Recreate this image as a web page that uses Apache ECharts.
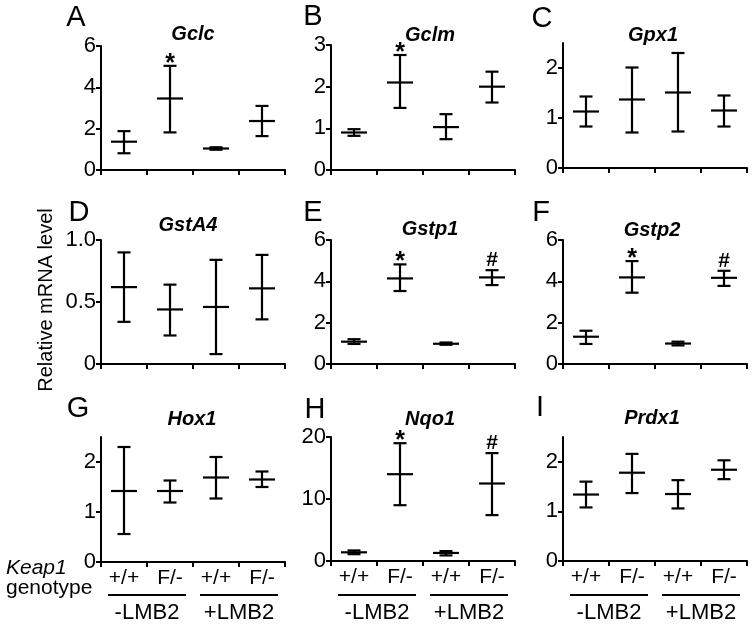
<!DOCTYPE html>
<html><head><meta charset="utf-8">
<script src="https://cdn.jsdelivr.net/npm/echarts@6/dist/echarts.min.js"></script>
<style>html,body{margin:0;padding:0;background:#fff}#c{width:752px;height:625px}</style>
</head><body><div id="c"></div>
<script>
// ---------------- data ----------------
const genotypes = ['+/+', 'F/-', '+/+', 'F/-'];
const treatments = ['-LMB2', '+LMB2'];
const genes = ['Gclc', 'Gclm', 'Gpx1', 'GstA4', 'Gstp1', 'Gstp2', 'Hox1', 'Nqo1', 'Prdx1'];
const panelLetters = ['A', 'B', 'C', 'D', 'E', 'F', 'G', 'H', 'I'];

const gclcMean = [1.37, 3.46, 1.04, 2.37];
const gclcLow  = [0.81, 1.82, 0.98, 1.64];
const gclcHigh = [1.88, 5.04, 1.10, 3.10];

const gclmMean = [0.90, 2.10, 1.03, 2.00];
const gclmLow  = [0.82, 1.49, 0.74, 1.62];
const gclmHigh = [0.98, 2.76, 1.34, 2.36];

const gpx1Mean = [1.13, 1.37, 1.51, 1.15];
const gpx1Low  = [0.83, 0.71, 0.73, 0.83];
const gpx1High = [1.43, 2.01, 2.30, 1.45];

const gsta4Mean = [0.62, 0.44, 0.46, 0.61];
const gsta4Low  = [0.34, 0.23, 0.08, 0.36];
const gsta4High = [0.90, 0.64, 0.84, 0.88];

const gstp1Mean = [1.08, 4.14, 0.98, 4.19];
const gstp1Low  = [0.97, 3.53, 0.93, 3.82];
const gstp1High = [1.20, 4.82, 1.04, 4.54];

const gstp2Mean = [1.32, 4.19, 0.99, 4.17];
const gstp2Low  = [0.97, 3.45, 0.90, 3.78];
const gstp2High = [1.61, 4.98, 1.08, 4.51];

const hox1Mean = [1.42, 1.42, 1.69, 1.65];
const hox1Low  = [0.56, 1.19, 1.27, 1.50];
const hox1High = [2.30, 1.63, 2.10, 1.81];

const nqo1Mean = [1.4, 14.0, 1.3, 12.5];
const nqo1Low  = [1.1, 9.0, 0.9, 7.4];
const nqo1High = [1.7, 19.0, 1.6, 17.4];

const prdx1Mean = [1.34, 1.78, 1.35, 1.84];
const prdx1Low  = [1.08, 1.37, 1.06, 1.65];
const prdx1High = [1.60, 2.16, 1.63, 2.03];

const yMaxes = [6, 3, 2.5, 1.0, 6, 6, 2.5, 20, 2.5];
const yTickValues = [[0, 2, 4, 6], [0, 1, 2, 3], [0, 1, 2], [0, 0.5, 1.0], [0, 2, 4, 6], [0, 2, 4, 6], [0, 1, 2], [0, 10, 20], [0, 1, 2]];
const sigMarks = [
  ['', '*', '', ''], ['', '*', '', ''], ['', '', '', ''],
  ['', '', '', ''], ['', '*', '', '#'], ['', '*', '', '#'],
  ['', '', '', ''], ['', '*', '', '#'], ['', '', '', '']
];
const yAxisTitle = 'Relative mRNA level';
const keapLabel = 'Keap1';
const genotypeLabel = 'genotype';

const means = [gclcMean, gclmMean, gpx1Mean, gsta4Mean, gstp1Mean, gstp2Mean, hox1Mean, nqo1Mean, prdx1Mean];
const lows  = [gclcLow, gclmLow, gpx1Low, gsta4Low, gstp1Low, gstp2Low, hox1Low, nqo1Low, prdx1Low];
const highs = [gclcHigh, gclmHigh, gpx1High, gsta4High, gstp1High, gstp2High, hox1High, nqo1High, prdx1High];

// ---------------- layout ----------------
const colLeft = [101, 331, 563];
const gridW = 184;
const gridTop = [46, 45, 43, 240, 240, 240, 437, 437, 437];
const gridH   = [124, 125, 125, 124, 124, 124, 125, 124, 124];
const titlePos = [[193, 34], [430, 35], [653, 35], [188, 225], [430, 229], [652, 230], [192, 419], [430, 419], [652, 418]];
const letterPos = [[76, 18], [313, 17], [542, 19], [79, 213], [313, 213], [541, 213], [78, 409], [315, 410], [540, 408]];

const FONT = 'Liberation Sans, Arial, sans-serif';
const chart = echarts.init(document.getElementById('c'), null, {renderer: 'canvas'});

const grids = [], xAxes = [], yAxes = [], series = [];
for (let i = 0; i < 9; i++) {
  const col = i % 3, row = Math.floor(i / 3);
  grids.push({left: colLeft[col], top: gridTop[i], width: gridW, height: gridH[i], outerBoundsMode: 'none', containLabel: false});
  xAxes.push({
    type: 'category', gridIndex: i, data: genotypes, boundaryGap: true,
    axisLine: {show: true, onZero: false, lineStyle: {color: '#000', width: 2}},
    axisTick: {show: true, length: 5, alignWithLabel: false, lineStyle: {color: '#000', width: 2}},
    axisLabel: {show: row === 2, color: '#000', fontSize: 21, fontFamily: FONT, margin: 6, interval: 0},
    splitLine: {show: false}
  });
  const ticks = yTickValues[i];
  yAxes.push({
    type: 'value', gridIndex: i, min: 0, max: yMaxes[i],
    axisLine: {show: true, lineStyle: {color: '#000', width: 2}},
    axisTick: {show: true, length: 5, customValues: ticks, lineStyle: {color: '#000', width: 2}},
    axisLabel: {show: true, customValues: ticks, color: '#000', fontSize: 22, fontFamily: FONT, margin: 5,
      formatter: v => (i === 3 && v !== 0) ? Number(v).toFixed(1) : String(v)},
    splitLine: {show: false}
  });
  const data = genotypes.map((g, k) => [k, means[i][k], lows[i][k], highs[i][k]]);
  const marks = sigMarks[i];
  series.push({
    type: 'custom', xAxisIndex: i, yAxisIndex: i, data: data, silent: true,
    renderItem: function (params, api) {
      const k = api.value(0);
      const pm = api.coord([k, api.value(1)]);
      const pl = api.coord([k, api.value(2)]);
      const ph = api.coord([k, api.value(3)]);
      const x = pm[0];
      const st = {stroke: '#000', lineWidth: 2.2};
      const cap = 6.5, half = 13;
      const children = [
        {type: 'line', shape: {x1: x, y1: ph[1], x2: x, y2: pl[1]}, style: st},
        {type: 'line', shape: {x1: x - cap, y1: ph[1], x2: x + cap, y2: ph[1]}, style: st},
        {type: 'line', shape: {x1: x - cap, y1: pl[1], x2: x + cap, y2: pl[1]}, style: st},
        {type: 'line', shape: {x1: x - half, y1: pm[1], x2: x + half, y2: pm[1]}, style: st}
      ];
      const m = marks[params.dataIndex];
      if (m) {
        children.push({type: 'text', x: x, y: ph[1] - (m === '*' ? 2 : 10),
          style: {text: m, fill: '#000', fontSize: m === '*' ? 25 : 21, fontWeight: 'bold', fontFamily: FONT,
            align: 'center', verticalAlign: 'middle'}});
      }
      return {type: 'group', children: children};
    }
  });
}

chart.setOption({
  animation: false,
  backgroundColor: '#fff',
  grid: grids, xAxis: xAxes, yAxis: yAxes, series: series
});

// ---------------- text & annotations ----------------
const graphics = [];
for (let i = 0; i < 9; i++) {
  graphics.push({type: 'text', x: titlePos[i][0], y: titlePos[i][1],
    style: {text: genes[i], fill: '#000', fontSize: 20, fontWeight: 'bold', fontStyle: 'italic', fontFamily: FONT,
      align: 'center', verticalAlign: 'middle'}});
  graphics.push({type: 'text', x: letterPos[i][0], y: letterPos[i][1],
    style: {text: panelLetters[i], fill: '#000', fontSize: 29, fontFamily: FONT, align: 'center', verticalAlign: 'middle'}});
}
graphics.push({type: 'text', x: 46, y: 300, rotation: Math.PI / 2,
  style: {text: yAxisTitle, fill: '#000', fontSize: 20, fontFamily: FONT, align: 'center', verticalAlign: 'middle'}});
graphics.push({type: 'text', x: 6, y: 568,
  style: {text: keapLabel, fill: '#000', fontSize: 21, fontStyle: 'italic', fontFamily: FONT, align: 'left', verticalAlign: 'middle'}});
graphics.push({type: 'text', x: 6, y: 588,
  style: {text: genotypeLabel, fill: '#000', fontSize: 21, fontFamily: FONT, align: 'left', verticalAlign: 'middle'}});
for (let i = 6; i < 9; i++) {
  for (let t = 0; t < 2; t++) {
    const xa = chart.convertToPixel({xAxisIndex: i}, t * 2);
    const xb = chart.convertToPixel({xAxisIndex: i}, t * 2 + 1);
    const cx = (xa + xb) / 2;
    graphics.push({type: 'line', shape: {x1: cx - 39, y1: 595, x2: cx + 39, y2: 595}, style: {stroke: '#000', lineWidth: 1.8}});
    graphics.push({type: 'text', x: cx, y: 613,
      style: {text: treatments[t], fill: '#000', fontSize: 22, fontFamily: FONT, align: 'center', verticalAlign: 'middle'}});
  }
}
chart.setOption({graphic: graphics});
</script></body></html>
